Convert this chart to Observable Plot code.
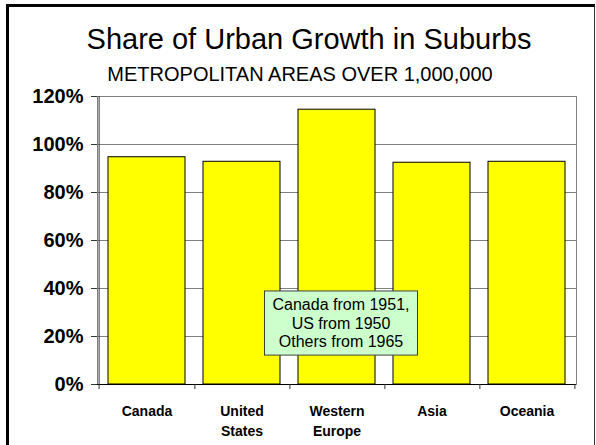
<!DOCTYPE html>
<html>
<head>
<meta charset="utf-8">
<script src="https://cdn.jsdelivr.net/npm/d3@7"></script>
<script src="https://cdn.jsdelivr.net/npm/@observablehq/plot@0.6"></script>
<style>
  html, body { margin: 0; padding: 0; background: #fff; }
  body { width: 596px; height: 445px; position: relative; overflow: hidden; font-family: Arial, "Liberation Sans", sans-serif; }
  #frame { position: absolute; left: 6px; top: 4px; width: 589px; height: 470px; box-sizing: border-box;
           border-left: 3px solid #000; border-top: 3px solid #000; border-right: 1px solid #333; }
  #title { position: absolute; left: 0; width: 618px; top: 25px; text-align: center; font-size: 29px; line-height: 29px; color: #000; white-space: nowrap; }
  #subtitle { position: absolute; left: 0; width: 600px; top: 64px; text-align: center; font-size: 20px; line-height: 20px; color: #000; white-space: nowrap; }
  #chart { position: absolute; left: 0; top: 88px; }
</style>
</head>
<body>
<div id="frame"></div>
<div id="title">Share of Urban Growth in Suburbs</div>
<div id="subtitle">METROPOLITAN AREAS OVER 1,000,000</div>
<div id="chart"></div>
<script>
const categories = ["Canada", "United States", "Western Europe", "Asia", "Oceania"];
const tickLabels = ["Canada", "United\nStates", "Western\nEurope", "Asia", "Oceania"];
const shares = [0.947, 0.928, 1.145, 0.924, 0.928];
const yTicks = [0, 0.2, 0.4, 0.6, 0.8, 1.0, 1.2];
const noteCategory = "Western Europe";
const noteValue = 0.258;
const noteLines = ["Canada from 1951,", "US from 1950", "Others from 1965"];

const data = categories.map((c, i) => ({category: c, share: shares[i]}));
const labelOf = new Map(categories.map((c, i) => [c, tickLabels[i]]));

const W = 596, H = 357, mL = 97, mR = 20, mT = 8, mB = 61;
const step = (W - mL - mR) / categories.length;
const font = 'Arial, "Liberation Sans", sans-serif';

const chart = Plot.plot({
  width: W, height: H,
  marginLeft: mL, marginRight: mR, marginTop: mT, marginBottom: mB,
  style: {fontFamily: font, background: "transparent", overflow: "visible"},
  x: {domain: categories, paddingInner: 0.19, paddingOuter: 0.095, label: null},
  y: {domain: [0, 1.2], label: null},
  marks: [
    Plot.gridY(yTicks, {stroke: "#808080", strokeOpacity: 1, strokeWidth: 1}),
    Plot.frame({stroke: "#808080", strokeWidth: 1}),
    Plot.barY(data, {x: "category", y: "share", fill: "#ffff00", stroke: "#000", strokeWidth: 1}),
    Plot.ruleX([categories[0]], {dx: -step / 2, stroke: "#333", strokeWidth: 1}),
    Plot.ruleY([0], {stroke: "#000", strokeWidth: 1}),
    Plot.axisY({ticks: yTicks, tickFormat: d3.format(".0%"), tickSize: 6, tickPadding: 8,
      fontSize: 20, fontWeight: "bold", stroke: "#333", fill: "#000"}),
    Plot.axisX({tickSize: 0, tickPadding: 18, tickFormat: d => labelOf.get(d), lineHeight: 1.38,
      fontSize: 14, fontWeight: "bold", fill: "#000"}),
    Plot.axisX({tickSize: 5, tickFormat: () => "", dx: step / 2, stroke: "#333"}),
    Plot.axisX({ticks: [categories[0]], tickSize: 5, tickFormat: () => "", dx: -step / 2, stroke: "#333"}),
    Plot.text([{category: noteCategory, v: noteValue}], {
      x: "category", y: "v", text: () => noteLines.join("\n"), dx: 4,
      fontSize: 16, lineHeight: 1.16, fill: "#000"})
  ]
});
document.getElementById("chart").append(chart);

// Box behind the note, sized from the rendered text
const noteText = Array.from(chart.querySelectorAll("text")).find(t => t.textContent.includes("Canada from"));
if (noteText) {
  const bb = noteText.getBBox();
  const padX = 8, padY = 5;
  const rect = document.createElementNS("http://www.w3.org/2000/svg", "rect");
  rect.setAttribute("x", bb.x - padX);
  rect.setAttribute("y", bb.y - padY);
  rect.setAttribute("width", bb.width + 2 * padX);
  rect.setAttribute("height", bb.height + 2 * padY);
  const tf = noteText.getAttribute("transform");
  if (tf) rect.setAttribute("transform", tf);
  rect.setAttribute("fill", "#ccffcc");
  rect.setAttribute("stroke", "#404040");
  rect.setAttribute("stroke-width", "1");
  noteText.parentNode.insertBefore(rect, noteText);
}
</script>
</body>
</html>
